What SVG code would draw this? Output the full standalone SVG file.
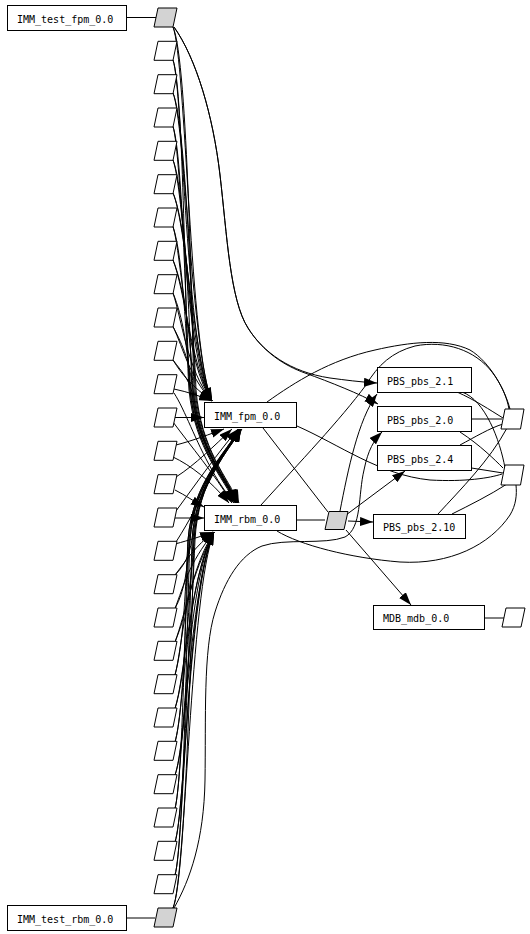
<svg xmlns="http://www.w3.org/2000/svg" width="530" height="934" viewBox="0 0 530 934">
<style>
.box{fill:#fff;stroke:#000;stroke-width:1}
.port{fill:#fff;stroke:#000;stroke-width:1}
.gport{fill:#d3d3d3;stroke:#000;stroke-width:1}
.lbl{font-family:"DejaVu Sans Mono","Liberation Mono",monospace;font-size:10px;fill:#000}
.e{fill:none;stroke:#000;stroke-width:1}
.a{marker-end:url(#arr)}
</style>
<defs>
<marker id="arr" markerUnits="userSpaceOnUse" markerWidth="13" markerHeight="9" refX="13" refY="4.5" orient="auto">
<path d="M0,0 L13,4.5 L0,9 z" fill="#000"/>
</marker>
</defs>
<rect x="0" y="0" width="530" height="934" fill="#fff"/>
<g id="connectors">
<path class="e" d="M126.5,17.5 L156,17.5"/>
<path class="e" d="M126.5,918 L155,918"/>
<!-- upper ports to IMM_fpm -->
<path class="e a" d="M173,27 C186,60 190,355 212,401"/>
<path class="e a" d="M173,60 C183,90 186,355 212,401"/>
<path class="e a" d="M173,93 C185,123 192,356 212,401"/>
<path class="e a" d="M173,126.5 C182,156 184,358 212,401"/>
<path class="e a" d="M173,160 C184,190 189,360 212,401"/>
<path class="e a" d="M173,193 C186,223 194,362 212,401"/>
<path class="e a" d="M173,226.5 C182,256 185,364 212,401"/>
<path class="e a" d="M173,260 C185,290 191,366 212,401"/>
<path class="e a" d="M173,293 C182,320 187,370 212,401"/>
<path class="e a" d="M173,326.5 C184,350 189,376 212,401"/>
<path class="e a" d="M173,360 C182,375 192,386 212,401"/>
<!-- upper ports to IMM_rbm -->
<path class="e a" d="M173,27 C188,60 192,330 194,390 C200,450 226,478 237,503"/>
<path class="e a" d="M173,60 C184,90 185,330 189,390 C195,450 224,478 235,503"/>
<path class="e a" d="M173,93 C186,123 193,330 195,390 C201,450 227,478 238,503"/>
<path class="e a" d="M173,126.5 C183,156 186,332 190,390 C196,450 225,478 236,503"/>
<path class="e a" d="M173,160 C185,190 190,334 192,390 C198,450 226,478 237,503"/>
<path class="e a" d="M173,193 C186,223 194,336 196,390 C201,450 228,478 239,503"/>
<path class="e a" d="M173,226.5 C183,256 186,338 190,390 C196,450 225,478 236,503"/>
<path class="e a" d="M173,260 C185,290 191,340 193,390 C199,450 226,478 237,503"/>
<path class="e a" d="M173,293 C183,318 187,345 191,390 C197,450 227,478 238,503"/>
<path class="e a" d="M173,326.5 C184,348 189,360 193,390 C199,450 226,478 237,503"/>
<path class="e a" d="M173,360 C182,372 188,378 192,392 C198,450 226,478 236,503"/>
<!-- middle ports -->
<path class="e a" d="M174,389 C188,392 200,396 212,401"/>
<path class="e a" d="M174,393 C185,410 195,440 212,470 C220,485 228,495 234,503"/>
<path class="e a" d="M175,417.5 L204,417.5"/>
<path class="e a" d="M173,422 C190,445 215,475 232,503"/>
<path class="e a" d="M176,445 C195,440 210,434 224,429"/>
<path class="e a" d="M173,457 C190,465 210,480 229,503"/>
<path class="e a" d="M176,477 C195,465 215,445 232,429"/>
<path class="e a" d="M175,490 C185,495 195,502 204,507"/>
<path class="e a" d="M175,518 L204,518"/>
<path class="e a" d="M176,511 C195,485 220,450 238,429"/>
<path class="e a" d="M175,544 C190,540 202,536 213,532"/>
<path class="e a" d="M176,542 C190,520 200,500 210,480 C220,460 232,442 242,429"/>
<!-- lower ports to IMM_rbm -->
<path class="e a" d="M175,575 C185,562 196,545 214,532"/>
<path class="e a" d="M175,608.5 C184,585 188,565 214,532"/>
<path class="e a" d="M175,642 C186,612 190,578 214,532"/>
<path class="e a" d="M175,675 C183,645 184,580 214,532"/>
<path class="e a" d="M175,708.5 C185,678 189,580 214,532"/>
<path class="e a" d="M175,742 C184,712 186,582 214,532"/>
<path class="e a" d="M175,775 C186,745 191,584 214,532"/>
<path class="e a" d="M175,808.5 C183,778 185,586 214,532"/>
<path class="e a" d="M175,842 C185,812 189,588 214,532"/>
<path class="e a" d="M175,875 C184,845 186,590 214,532"/>
<path class="e a" d="M173,908 C186,878 190,592 214,532"/>
<!-- lower ports to IMM_fpm -->
<path class="e a" d="M175,575 C185,565 189,555 192,540 C196,480 228,452 240,429"/>
<path class="e a" d="M175,608.5 C185,590 187,570 190,540 C194,480 227,452 239,429"/>
<path class="e a" d="M175,642 C186,615 191,590 194,540 C198,480 229,452 241,429"/>
<path class="e a" d="M175,675 C183,645 185,600 188,540 C193,480 228,452 240,429"/>
<path class="e a" d="M175,708.5 C185,678 190,602 193,540 C197,480 227,452 239,429"/>
<path class="e a" d="M175,742 C184,712 186,604 189,540 C194,480 229,452 241,429"/>
<path class="e a" d="M175,775 C186,745 192,606 195,540 C198,480 228,452 240,429"/>
<path class="e a" d="M175,808.5 C183,778 185,606 188,540 C193,480 227,452 239,429"/>
<path class="e a" d="M175,842 C185,812 190,608 192,540 C196,480 229,452 241,429"/>
<path class="e a" d="M175,875 C184,845 187,608 190,540 C195,480 228,452 240,429"/>
<path class="e a" d="M173,908 C186,878 192,610 194,540 C198,480 227,452 239,429"/>
<!-- long curves -->
<path class="e a" d="M174,27 C196,58 213,115 220,175 C227,235 230,300 248,328 C263,352 290,372 330,378 C345,380 360,382 377,383"/>
<path class="e a" d="M174,27 C196,58 213,115 220,175 C227,235 230,300 248,328 C263,352 285,366 305,373 C330,382 360,394 378,404"/>
<path class="e a" d="M174,908 C190,880 204,840 205,780 C206,720 203,650 215,612 C225,580 240,555 262,546 C285,538 325,545 345,537 C362,528 358,495 364,470 C368,450 374,440 382,432"/>
<!-- IMM to right side -->
<path class="e" d="M267,402 C295,382 330,360 375,350 C410,342 445,338 470,350 C490,362 505,390 510,409"/>
<path class="e" d="M261,505 C300,462 340,420 366,385 C378,365 392,352 415,346 C445,340 475,350 492,372 C502,385 507,398 509,409"/>
<path class="e" d="M297,426 C340,445 380,475 430,480 C465,482 490,478 502,474"/>
<path class="e" d="M263,428 L328,512"/>
<path class="e" d="M297,520 L325,520"/>
<path class="e" d="M277,531 C300,545 350,558 400,562 C450,565 490,545 510,515 C516,505 517,495 516,485"/>
<!-- G_mid edges -->
<path class="e a" d="M348,521 L373,522"/>
<path class="e a" d="M346,515 L405,471"/>
<path class="e a" d="M346,530 L411,605"/>
<path class="e a" d="M340,511 C348,470 358,420 377,394"/>
<!-- PBS to ports -->
<path class="e" d="M457,392 C475,400 490,410 503,418"/>
<path class="e" d="M462,392 C485,400 500,440 505,468"/>
<path class="e" d="M471.5,419 L502,419"/>
<path class="e" d="M460,432 C480,445 495,460 503,468"/>
<path class="e" d="M460,445 C475,437 490,428 503,424"/>
<path class="e" d="M471.5,468 L503,473"/>
<path class="e" d="M438,514 C460,490 490,460 507,428"/>
<path class="e" d="M452,514 C470,505 490,495 507,484"/>
<path class="e" d="M484.5,618 L504,618"/>
</g>
<g id="n_IMM_test_fpm"><rect class="box" x="7.5" y="5.5" width="119" height="25"/><text class="lbl" x="17" y="22.5">IMM_test_fpm_0.0</text></g>
<g id="n_IMM_test_rbm"><rect class="box" x="7.5" y="905.5" width="119" height="25"/><text class="lbl" x="17" y="922.5">IMM_test_rbm_0.0</text></g>
<g id="n_IMM_fpm"><rect class="box" x="204.5" y="402.5" width="92" height="25"/><text class="lbl" x="214" y="419.5">IMM_fpm_0.0</text></g>
<g id="n_IMM_rbm"><rect class="box" x="204.5" y="505.5" width="92" height="25"/><text class="lbl" x="214" y="522.5">IMM_rbm_0.0</text></g>
<g id="n_PBS_2_1"><rect class="box" x="377.5" y="367.5" width="94" height="25"/><text class="lbl" x="387" y="384.5">PBS_pbs_2.1</text></g>
<g id="n_PBS_2_0"><rect class="box" x="377.5" y="406.5" width="94" height="25"/><text class="lbl" x="387" y="423.5">PBS_pbs_2.0</text></g>
<g id="n_PBS_2_4"><rect class="box" x="377.5" y="445.5" width="94" height="25"/><text class="lbl" x="387" y="462.5">PBS_pbs_2.4</text></g>
<g id="n_PBS_2_10"><rect class="box" x="373.5" y="514.5" width="92" height="24"/><text class="lbl" x="383" y="531">PBS_pbs_2.10</text></g>
<g id="n_MDB"><rect class="box" x="373.5" y="605.5" width="111" height="24"/><text class="lbl" x="383" y="622">MDB_mdb_0.0</text></g>
<g id="n_port_0"><polygon class="gport" points="158,8 177,8 173,27 154,27"/></g>
<g id="n_port_1"><polygon class="port" points="158,41.3 177,41.3 173,60.3 154,60.3"/></g>
<g id="n_port_2"><polygon class="port" points="158,74.7 177,74.7 173,93.7 154,93.7"/></g>
<g id="n_port_3"><polygon class="port" points="158,108 177,108 173,127 154,127"/></g>
<g id="n_port_4"><polygon class="port" points="158,141.3 177,141.3 173,160.3 154,160.3"/></g>
<g id="n_port_5"><polygon class="port" points="158,174.7 177,174.7 173,193.7 154,193.7"/></g>
<g id="n_port_6"><polygon class="port" points="158,208 177,208 173,227 154,227"/></g>
<g id="n_port_7"><polygon class="port" points="158,241.3 177,241.3 173,260.3 154,260.3"/></g>
<g id="n_port_8"><polygon class="port" points="158,274.7 177,274.7 173,293.7 154,293.7"/></g>
<g id="n_port_9"><polygon class="port" points="158,308 177,308 173,327 154,327"/></g>
<g id="n_port_10"><polygon class="port" points="158,341.3 177,341.3 173,360.3 154,360.3"/></g>
<g id="n_port_11"><polygon class="port" points="158,374.7 177,374.7 173,393.7 154,393.7"/></g>
<g id="n_port_12"><polygon class="port" points="158,408 177,408 173,427 154,427"/></g>
<g id="n_port_13"><polygon class="port" points="158,441.3 177,441.3 173,460.3 154,460.3"/></g>
<g id="n_port_14"><polygon class="port" points="158,474.7 177,474.7 173,493.7 154,493.7"/></g>
<g id="n_port_15"><polygon class="port" points="158,508 177,508 173,527 154,527"/></g>
<g id="n_port_16"><polygon class="port" points="158,541.3 177,541.3 173,560.3 154,560.3"/></g>
<g id="n_port_17"><polygon class="port" points="158,574.7 177,574.7 173,593.7 154,593.7"/></g>
<g id="n_port_18"><polygon class="port" points="158,608 177,608 173,627 154,627"/></g>
<g id="n_port_19"><polygon class="port" points="158,641.3 177,641.3 173,660.3 154,660.3"/></g>
<g id="n_port_20"><polygon class="port" points="158,674.7 177,674.7 173,693.7 154,693.7"/></g>
<g id="n_port_21"><polygon class="port" points="158,708 177,708 173,727 154,727"/></g>
<g id="n_port_22"><polygon class="port" points="158,741.3 177,741.3 173,760.3 154,760.3"/></g>
<g id="n_port_23"><polygon class="port" points="158,774.7 177,774.7 173,793.7 154,793.7"/></g>
<g id="n_port_24"><polygon class="port" points="158,808 177,808 173,827 154,827"/></g>
<g id="n_port_25"><polygon class="port" points="158,841.3 177,841.3 173,860.3 154,860.3"/></g>
<g id="n_port_26"><polygon class="port" points="158,874.7 177,874.7 173,893.7 154,893.7"/></g>
<g id="n_port_27"><polygon class="gport" points="158,908 177,908 173,927 154,927"/></g>
<g id="n_port_mid"><polygon class="gport" points="329,511.5 348,511.5 344,529.5 325,529.5"/></g>
<g id="n_port_r1"><polygon class="port" points="505,409 524,409 520.5,429 501,429"/></g>
<g id="n_port_r2"><polygon class="port" points="505,465 524,465 520.5,485 501,485"/></g>
<g id="n_port_mdb"><polygon class="port" points="506,608 525,608 521,627 502,627"/></g>
</svg>
